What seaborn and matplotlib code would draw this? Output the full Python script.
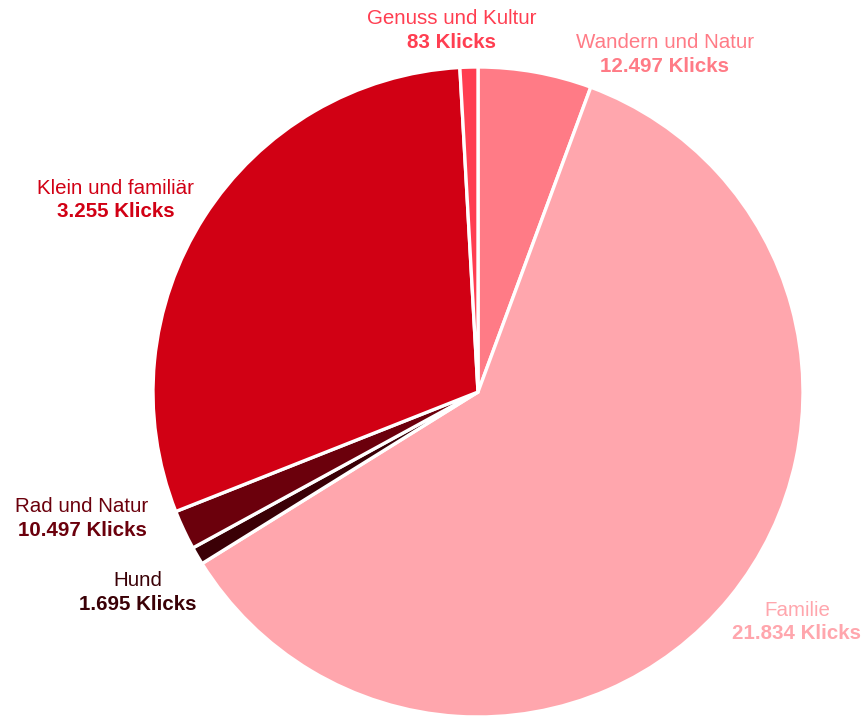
import matplotlib
matplotlib.use("Agg")
import matplotlib.pyplot as plt
import seaborn as sns

sns.set_theme(style="white")
plt.rcParams['font.family'] = ['Liberation Sans', 'DejaVu Sans']

# Data (slice shares, labels as printed)
categories = ["Wandern und Natur", "Familie", "Hund", "Rad und Natur",
              "Klein und familiär", "Genuss und Kultur"]
shares = [5.64, 60.5, 0.89, 1.97, 30.1, 0.89]
clicks = ["12.497", "21.834", "1.695", "10.497", "3.255", "83"]

colors = ["#FF7B86", "#FFA6AD", "#3A0006", "#6B000C", "#D10014", "#FF3E51"]

# label centres in pixel coords (x, name line y, value line y)
label_px = [(665, 43, 67), (797, 610, 634), (138, 580, 605),
            (82, 507, 531), (116, 188, 212), (452, 18, 43)]

W, H = 865, 717
CX, CY, R = 478, 392, 325

fig = plt.figure(figsize=(W / 100, H / 100), dpi=100)
ax = fig.add_axes([0, 0, 1, 1])
ax.pie(shares, colors=colors, startangle=90, counterclock=False,
       radius=1.0, center=(0, 0),
       wedgeprops=dict(edgecolor="white", linewidth=2.4))
ax.set_xlim(-CX / R, (W - CX) / R)
ax.set_ylim(-(H - CY) / R, CY / R)
ax.axis("off")

def to_data(px, py):
    return (px - CX) / R, (CY - py) / R

FS = 14.8
for name, val, col, (px, py1, py2) in zip(categories, clicks, colors, label_px):
    x, y1 = to_data(px, py1)
    _, y2 = to_data(px, py2)
    ax.text(x, y1, name, color=col, fontsize=FS, ha="center", va="center")
    ax.text(x, y2, f"{val} Klicks", color=col, fontsize=FS,
            fontweight="bold", ha="center", va="center")

fig.savefig("out.png", dpi=100, facecolor="white")
